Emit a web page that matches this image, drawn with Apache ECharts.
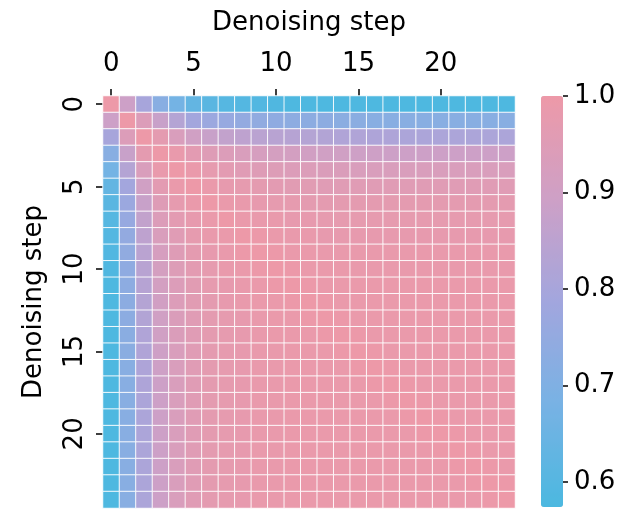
<!DOCTYPE html>
<html>
<head>
<meta charset="utf-8">
<script src="https://cdn.jsdelivr.net/npm/echarts@6/dist/echarts.min.js"></script>
<style>html,body{margin:0;padding:0;background:#fff;}#c{width:639px;height:512px;}</style>
</head>
<body>
<div id="c"></div>
<script>
var steps = ['0','1','2','3','4','5','6','7','8','9','10','11','12','13','14','15','16','17','18','19','20','21','22','23','24'];
var colorMin = 0.574, colorMax = 1.0;
var colorbarAxisMin = 0.6, colorbarAxisMax = 1.0, colorbarStep = 0.1;

var row0  = [1.00,0.89,0.80,0.72,0.67,0.63,0.61,0.60,0.595,0.59,0.585,0.58,0.58,0.58,0.58,0.58,0.58,0.58,0.58,0.58,0.58,0.58,0.58,0.58,0.58];
var row1  = [0.89,1.00,0.94,0.88,0.83,0.79,0.77,0.76,0.75,0.745,0.74,0.735,0.73,0.73,0.725,0.725,0.72,0.72,0.72,0.72,0.72,0.72,0.72,0.72,0.72];
var row2  = [0.80,0.94,1.00,0.97,0.93,0.90,0.88,0.865,0.855,0.845,0.84,0.835,0.83,0.825,0.82,0.82,0.815,0.815,0.81,0.81,0.81,0.81,0.81,0.81,0.81];
var row3  = [0.72,0.88,0.97,1.00,0.985,0.965,0.95,0.94,0.93,0.92,0.915,0.91,0.905,0.90,0.90,0.895,0.895,0.89,0.89,0.89,0.89,0.89,0.89,0.89,0.89];
var row4  = [0.67,0.83,0.93,0.985,1.00,0.99,0.975,0.965,0.955,0.95,0.945,0.94,0.94,0.935,0.935,0.93,0.93,0.93,0.93,0.93,0.93,0.93,0.93,0.93,0.93];
var row5  = [0.63,0.79,0.90,0.965,0.99,1.00,0.99,0.98,0.975,0.97,0.965,0.96,0.96,0.955,0.955,0.955,0.955,0.955,0.955,0.955,0.955,0.955,0.955,0.955,0.955];
var row6  = [0.61,0.77,0.88,0.95,0.975,0.99,1.00,0.99,0.985,0.98,0.975,0.975,0.97,0.97,0.97,0.97,0.97,0.97,0.97,0.97,0.97,0.97,0.97,0.97,0.97];
var row7  = [0.60,0.76,0.865,0.94,0.965,0.98,0.99,1.00,0.99,0.985,0.985,0.98,0.98,0.975,0.975,0.975,0.975,0.975,0.975,0.975,0.975,0.975,0.975,0.975,0.975];
var row8  = [0.595,0.75,0.855,0.93,0.955,0.975,0.985,0.99,1.00,0.995,0.99,0.985,0.985,0.98,0.98,0.98,0.98,0.98,0.98,0.98,0.98,0.98,0.98,0.98,0.98];
var row9  = [0.59,0.745,0.845,0.92,0.95,0.97,0.98,0.985,0.995,1.00,0.995,0.99,0.99,0.985,0.985,0.985,0.985,0.985,0.985,0.985,0.985,0.985,0.985,0.985,0.985];
var row10 = [0.585,0.74,0.84,0.915,0.945,0.965,0.975,0.985,0.99,0.995,1.00,0.995,0.99,0.99,0.99,0.985,0.985,0.985,0.985,0.985,0.985,0.985,0.985,0.985,0.985];
var row11 = [0.58,0.735,0.835,0.91,0.94,0.96,0.975,0.98,0.985,0.99,0.995,1.00,0.995,0.99,0.99,0.99,0.99,0.99,0.99,0.99,0.99,0.99,0.99,0.99,0.99];
var row12 = [0.58,0.73,0.83,0.905,0.94,0.96,0.97,0.98,0.985,0.99,0.99,0.995,1.00,0.995,0.99,0.99,0.99,0.99,0.99,0.99,0.99,0.99,0.99,0.99,0.99];
var row13 = [0.58,0.73,0.825,0.90,0.935,0.955,0.97,0.975,0.98,0.985,0.99,0.99,0.995,1.00,0.995,0.99,0.99,0.99,0.99,0.99,0.99,0.99,0.99,0.99,0.99];
var row14 = [0.58,0.725,0.82,0.90,0.935,0.955,0.97,0.975,0.98,0.985,0.99,0.99,0.99,0.995,1.00,0.995,0.99,0.99,0.99,0.99,0.99,0.99,0.99,0.99,0.99];
var row15 = [0.58,0.725,0.82,0.895,0.93,0.955,0.97,0.975,0.98,0.985,0.985,0.99,0.99,0.99,0.995,1.00,0.995,0.99,0.99,0.99,0.99,0.99,0.99,0.99,0.99];
var row16 = [0.58,0.72,0.815,0.895,0.93,0.955,0.97,0.975,0.98,0.985,0.985,0.99,0.99,0.99,0.99,0.995,1.00,0.995,0.99,0.99,0.99,0.99,0.99,0.99,0.99];
var row17 = [0.58,0.72,0.815,0.89,0.93,0.955,0.97,0.975,0.98,0.985,0.985,0.99,0.99,0.99,0.99,0.99,0.995,1.00,0.995,0.99,0.99,0.99,0.99,0.99,0.99];
var row18 = [0.58,0.72,0.81,0.89,0.93,0.955,0.97,0.975,0.98,0.985,0.985,0.99,0.99,0.99,0.99,0.99,0.99,0.995,1.00,0.995,0.99,0.99,0.99,0.99,0.99];
var row19 = [0.58,0.72,0.81,0.89,0.93,0.955,0.97,0.975,0.98,0.985,0.985,0.99,0.99,0.99,0.99,0.99,0.99,0.99,0.995,1.00,0.995,0.99,0.99,0.99,0.99];
var row20 = [0.58,0.72,0.81,0.89,0.93,0.955,0.97,0.975,0.98,0.985,0.985,0.99,0.99,0.99,0.99,0.99,0.99,0.99,0.99,0.995,1.00,0.995,0.99,0.99,0.99];
var row21 = [0.58,0.72,0.81,0.89,0.93,0.955,0.97,0.975,0.98,0.985,0.985,0.99,0.99,0.99,0.99,0.99,0.99,0.99,0.99,0.99,0.995,1.00,0.995,0.99,0.99];
var row22 = [0.58,0.72,0.81,0.89,0.93,0.955,0.97,0.975,0.98,0.985,0.985,0.99,0.99,0.99,0.99,0.99,0.99,0.99,0.99,0.99,0.99,0.995,1.00,0.995,0.99];
var row23 = [0.58,0.72,0.81,0.89,0.93,0.955,0.97,0.975,0.98,0.985,0.985,0.99,0.99,0.99,0.99,0.99,0.99,0.99,0.99,0.99,0.99,0.99,0.995,1.00,0.995];
var row24 = [0.58,0.72,0.81,0.89,0.93,0.955,0.97,0.975,0.98,0.985,0.985,0.99,0.99,0.99,0.99,0.99,0.99,0.99,0.99,0.99,0.99,0.99,0.99,0.995,1.00];

var rows = [row0,row1,row2,row3,row4,row5,row6,row7,row8,row9,row10,row11,row12,row13,row14,row15,row16,row17,row18,row19,row20,row21,row22,row23,row24];
var data = [];
rows.forEach(function (r, i) {
  r.forEach(function (v, j) { data.push([j, i, v]); });
});

var FONT = 'DejaVu Sans';
var FS = 26;
var barLeft = 541, barWidth = 22, barTop = 96, barHeight = 411;
var pxPerUnit = barHeight / (colorMax - colorMin);
var cbGridHeight = (colorbarAxisMax - colorbarAxisMin) * pxPerUnit;

var chart = echarts.init(document.getElementById('c'), null, {renderer: 'canvas'});
chart.setOption({
  animation: false,
  backgroundColor: '#fff',
  textStyle: {fontFamily: FONT},
  grid: [
    {left: 103, top: 96, width: 412, height: 412},
    {left: barLeft + barWidth, top: barTop, width: 60, height: cbGridHeight}
  ],
  xAxis: [
    {
      type: 'category', data: steps, position: 'top', gridIndex: 0,
      name: 'Denoising step', nameLocation: 'middle', nameGap: 60,
      nameTextStyle: {fontSize: FS, color: '#000', fontFamily: FONT},
      axisLine: {show: false},
      axisTick: {show: true, alignWithLabel: true, interval: 4, length: 7, lineStyle: {color: '#000', width: 1.5}},
      axisLabel: {interval: 4, fontSize: FS, color: '#000', margin: 19, fontFamily: FONT},
      splitLine: {show: false}
    },
    {type: 'value', gridIndex: 1, show: false, min: 0, max: 1}
  ],
  yAxis: [
    {
      type: 'category', data: steps, inverse: true, gridIndex: 0,
      name: 'Denoising step', nameLocation: 'middle', nameGap: 56, nameRotate: 90,
      nameTextStyle: {fontSize: FS, color: '#000', fontFamily: FONT},
      axisLine: {show: false},
      axisTick: {show: true, alignWithLabel: true, interval: 4, length: 7, lineStyle: {color: '#000', width: 1.5}},
      axisLabel: {interval: 4, rotate: 90, fontSize: FS, color: '#000', margin: 15, fontFamily: FONT},
      splitLine: {show: false}
    },
    {
      type: 'value', gridIndex: 1, position: 'left', z: 10,
      min: colorbarAxisMin, max: colorbarAxisMax, interval: colorbarStep,
      axisLine: {show: false},
      axisTick: {show: true, inside: true, length: 5, lineStyle: {color: '#000', width: 1.5}},
      axisLabel: {inside: true, fontSize: FS, color: '#000', margin: 11, fontFamily: FONT,
        formatter: function (v) { return v.toFixed(1); }},
      splitLine: {show: false}
    }
  ],
  visualMap: {
    type: 'continuous', min: colorMin, max: colorMax, seriesIndex: 0,
    left: barLeft, top: barTop, itemWidth: barWidth, itemHeight: barHeight, padding: 0,
    calculable: false, text: null, showLabel: false, hoverLink: false,
    inRange: {color: ['#4bb8e0', '#78b2e4', '#a2a6de', '#cea0c6', '#ed99a8']}
  },
  series: [{
    type: 'heatmap', xAxisIndex: 0, yAxisIndex: 0, data: data,
    itemStyle: {borderColor: 'rgba(255,255,255,0.9)', borderWidth: 1}
  }]
});
</script>
</body>
</html>
